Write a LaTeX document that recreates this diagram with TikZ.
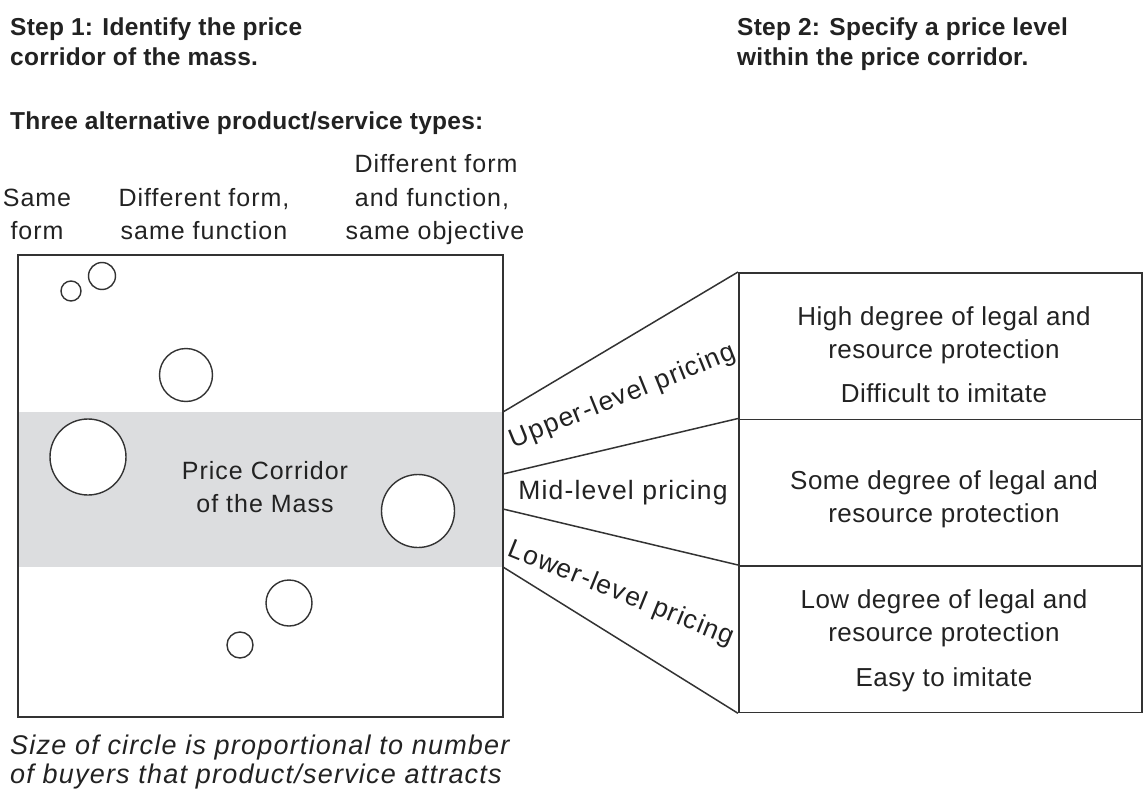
\documentclass[tikz,border=0pt]{standalone}
\usepackage{fontspec}
\setmainfont{Liberation Sans}
\definecolor{band}{HTML}{DCDDDF}
\definecolor{ink}{HTML}{222222}
\definecolor{edge}{HTML}{333333}
\begin{document}
\begin{tikzpicture}[x=1pt,y=-1pt,
  frame/.style={draw=edge, line width=1.8pt},
  fan/.style={draw=edge, line width=1.5pt},
  bubble/.style={circle, draw=edge, line width=1.4pt, fill=white, inner sep=0pt},
  head/.style={font=\bfseries\fontsize{24.5}{30}\selectfont\addfontfeature{LetterSpace=1}, anchor=base west, inner sep=0pt, text=ink},
  col/.style={font=\fontsize{25}{30}\selectfont\addfontfeature{LetterSpace=4}, anchor=base, inner sep=0pt, text=ink},
  boxtxt/.style={font=\fontsize{26}{30}\selectfont\addfontfeature{LetterSpace=2}, anchor=base, inner sep=0pt, text=ink},
  lvl/.style={font=\fontsize{26.5}{30}\selectfont\addfontfeature{LetterSpace=4.5}, inner sep=0pt, text=ink},
  foot/.style={font=\itshape\fontsize{27}{30}\selectfont\addfontfeature{LetterSpace=4.5}, anchor=base west, inner sep=0pt, text=ink},
  panel/.style={frame, minimum width=403pt, minimum height=146.5pt, inner sep=0pt, anchor=north west},
]
\useasboundingbox (0,0) rectangle (1144,800);

% headings
\node[head] (h1a) at (10,36) {Step 1: Identify the price};
\node[head] (h1b) at (10,66) {corridor of the mass.};
\node[head] (h2a) at (737,36) {Step 2: Specify a price level};
\node[head] (h2b) at (737,66) {within the price corridor.};
\node[head] (h3) at (10,129) {Three alternative product/service types:};

% column headers
\node[col] (c1a) at (37,206) {Same};
\node[col] (c1b) at (37,239) {form};
\node[col] (c2a) at (204,206) {Different form,};
\node[col] (c2b) at (204,239) {same function};
\node[col] (c3a) at (436,172) {Different form};
\node[col] (c3b) at (432,206) {and function,};
\node[col] (c3c) at (435,239) {same objective};

% main box
\fill[white] (18,255) rectangle (503,717);
\fill[band] (18,412) rectangle (503,567);
\node[inner sep=0pt, minimum width=485pt, minimum height=462pt] (mass) at (260.5,486) {};

% circles
\node[bubble, minimum size=20pt] (b1) at (71,291) {};
\node[bubble, minimum size=27pt] (b2) at (102,276) {};
\node[bubble, minimum size=53pt] (b3) at (186,375) {};
\node[bubble, minimum size=76pt] (b4) at (88,457) {};
\node[bubble, minimum size=73pt] (b5) at (418,511) {};
\node[bubble, minimum size=46pt] (b6) at (289,603) {};
\node[bubble, minimum size=26pt] (b7) at (240,645) {};

\node[col] (pc1) at (265,479) {Price Corridor};
\node[col] (pc2) at (265,512) {of the Mass};

\draw[frame] (mass.north west) rectangle (mass.south east);

% right panels
\node[panel] (r1) at (738,272) {};
\node[panel] (r2) at (738,418.5) {};
\node[panel] (r3) at (738,565) {};

\node[boxtxt] (t1a) at (944,325) {High degree of legal and};
\node[boxtxt] (t1b) at (944,358) {resource protection};
\node[boxtxt] (t1c) at (944,402) {Difficult to imitate};
\node[boxtxt] (t2a) at (944,489) {Some degree of legal and};
\node[boxtxt] (t2b) at (944,522) {resource protection};
\node[boxtxt] (t3a) at (944,608) {Low degree of legal and};
\node[boxtxt] (t3b) at (944,641) {resource protection};
\node[boxtxt] (t3c) at (944,686) {Easy to imitate};

% fan connectors
\coordinate (f1) at (503,412);
\coordinate (f2) at (503,474);
\coordinate (f3) at (503,509);
\coordinate (f4) at (503,567);
\draw[fan] (f1) -- (r1.north west);
\draw[fan] (f2) -- (r2.north west);
\draw[fan] (f3) -- (r3.north west);
\draw[fan] (f4) -- (r3.south west);

\node[lvl, rotate=22] (up) at (623,397) {Upper-level pricing};
\node[lvl] (mid) at (623,493) {Mid-level pricing};
\node[lvl, rotate=-22] (low) at (621,594) {Lower-level pricing};

% footnote
\node[foot] (n1) at (10,754) {Size of circle is proportional to number};
\node[foot] (n2) at (10,783) {of buyers that product/service attracts};
\end{tikzpicture}
\end{document}
